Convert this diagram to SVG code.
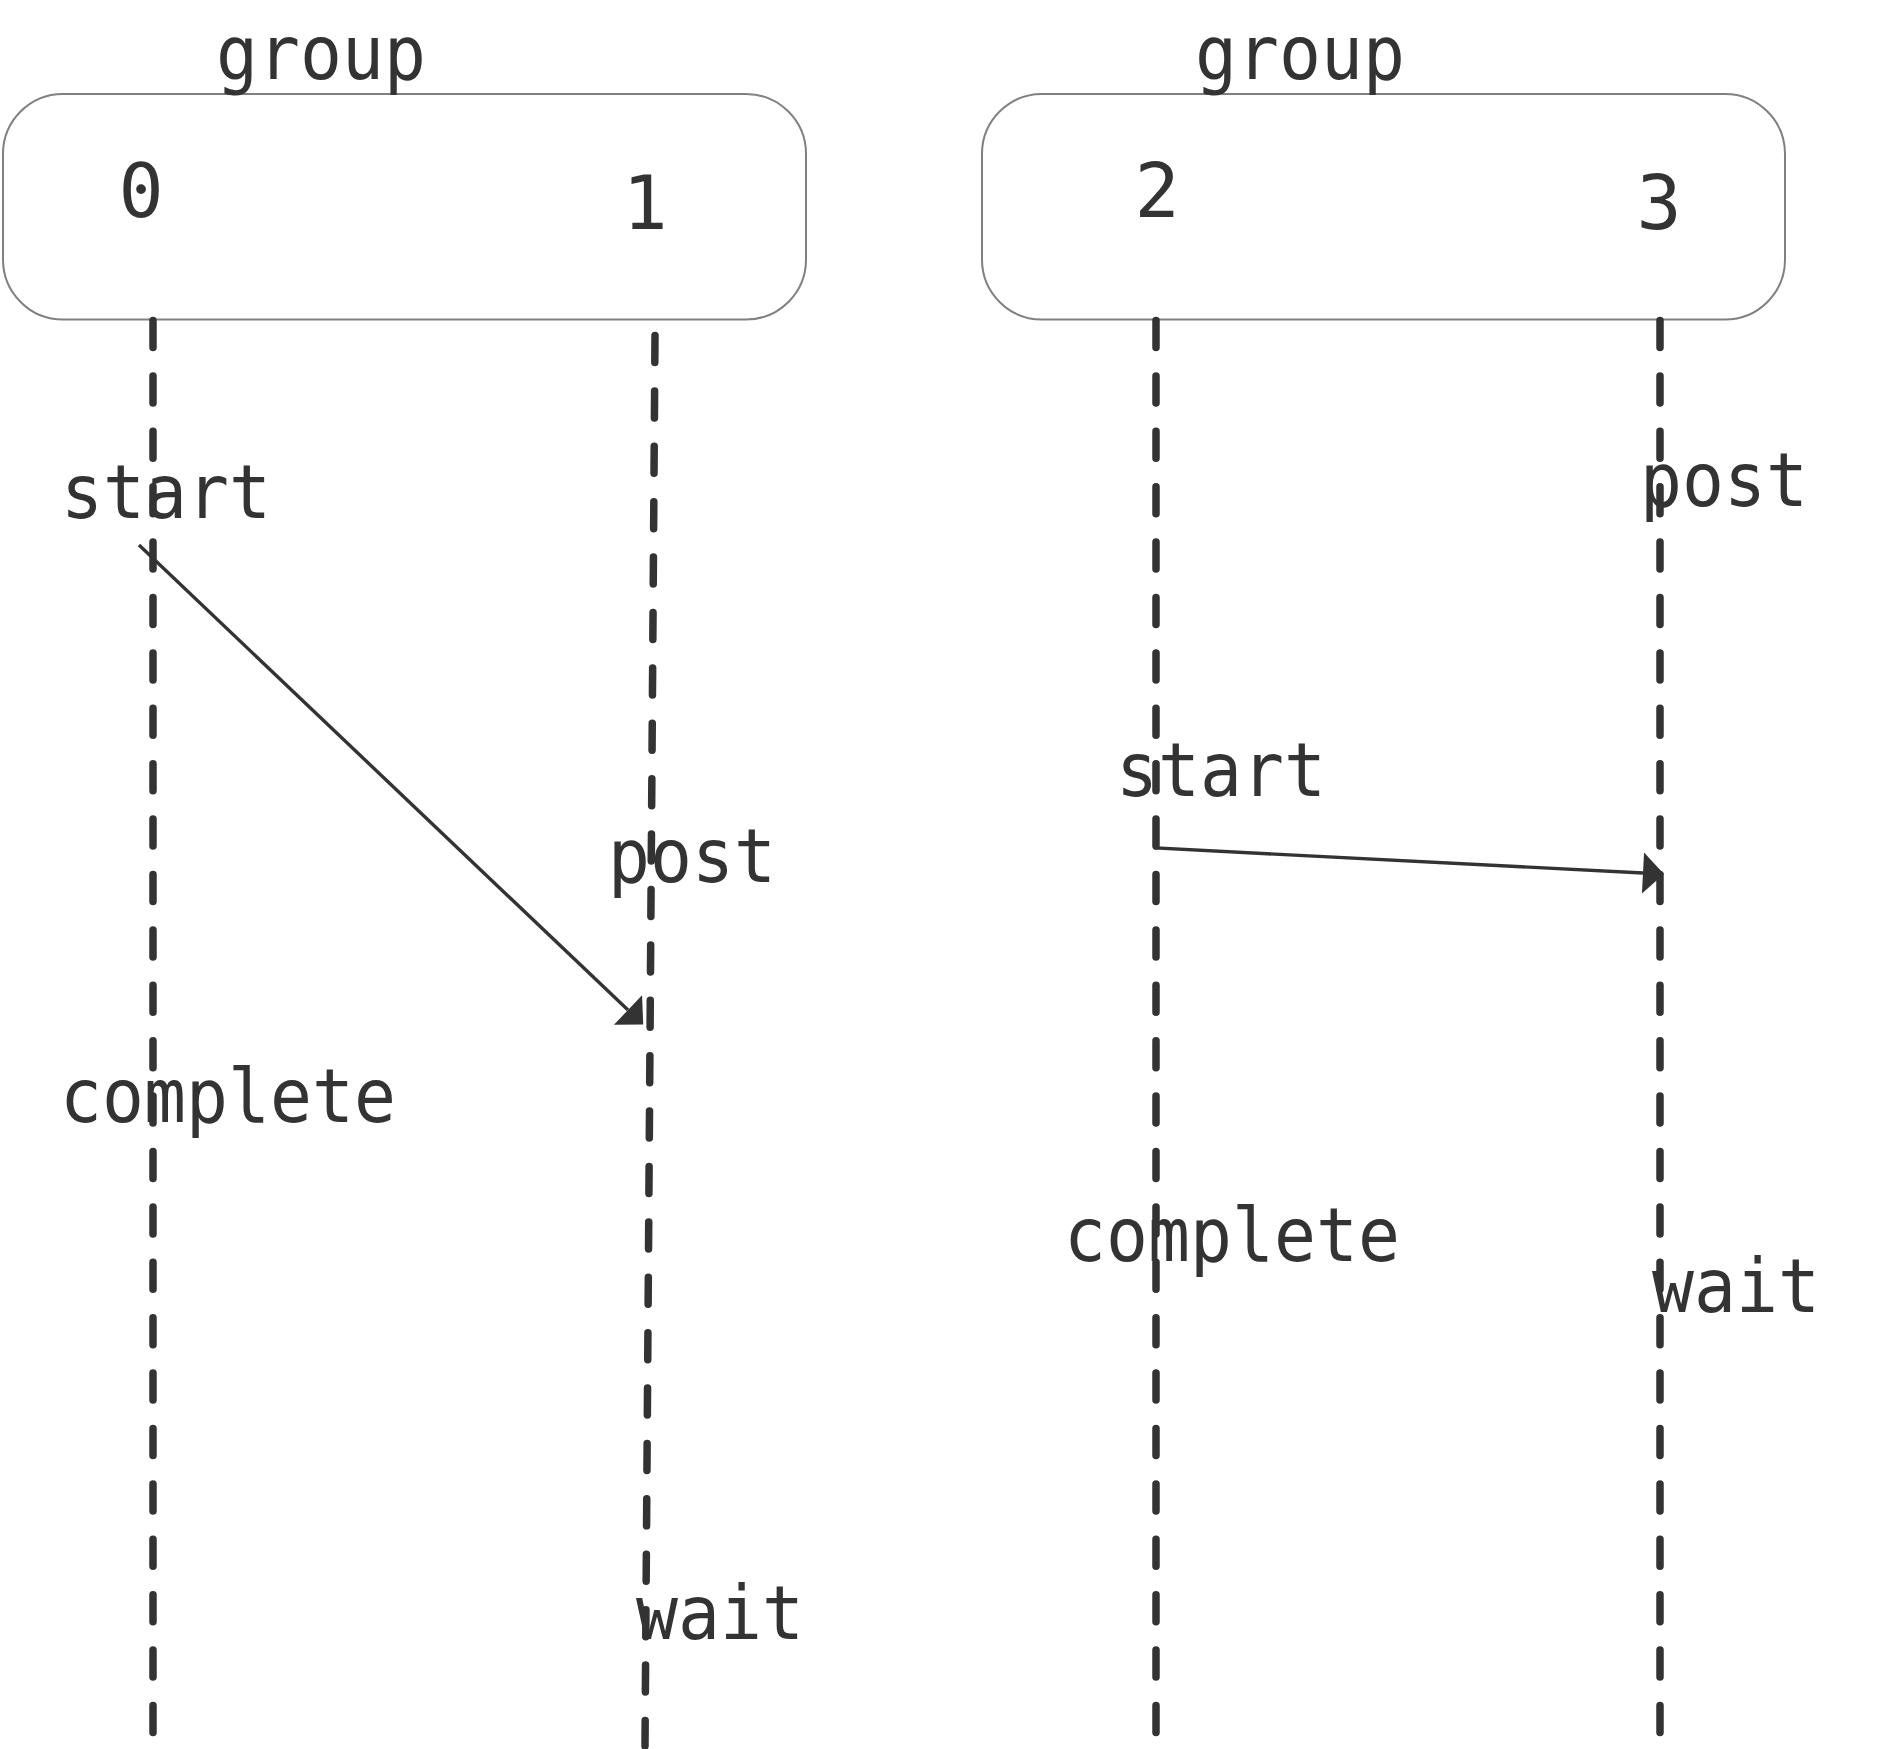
<svg xmlns="http://www.w3.org/2000/svg" width="1891" height="1749" viewBox="0 0 1891 1749">
<defs>
<style>
.box{fill:#ffffff;stroke:#808080;stroke-width:2}
.lbl{font-family:"DejaVu Sans Mono","Liberation Mono",monospace;font-size:75px;fill:#333333}
.life{fill:none;stroke:#333333;stroke-width:7.5;stroke-linecap:round;stroke-dasharray:27 28.4}
.msg{fill:none;stroke:#333333;stroke-width:3.4}
</style>
<marker id="arrow" markerUnits="userSpaceOnUse" markerWidth="24" markerHeight="44" viewBox="0 -21 22 42" refX="0" refY="0" orient="auto">
<path d="M0,-19.5 L20,0 L0,19.5 Z" fill="#333333"/>
</marker>
</defs>
<rect width="1891" height="1749" fill="#ffffff"/>
<g id="group-left">
<rect class="box" x="3" y="94" width="803" height="225.5" rx="60" ry="60"/>
<text class="lbl" x="216" y="79" textLength="210" lengthAdjust="spacingAndGlyphs">group</text>
</g>
<g id="group-right">
<rect class="box" x="982" y="94" width="803" height="225.5" rx="60" ry="60"/>
<text class="lbl" x="1195" y="79" textLength="210" lengthAdjust="spacingAndGlyphs">group</text>
</g>
<g id="node-0">
<text class="lbl" x="141" y="217" text-anchor="middle">0</text>
</g>
<g id="node-1">
<text class="lbl" x="645" y="229" text-anchor="middle">1</text>
</g>
<g id="node-2">
<text class="lbl" x="1157" y="217" text-anchor="middle">2</text>
</g>
<g id="node-3">
<text class="lbl" x="1659" y="229" text-anchor="middle">3</text>
</g>
<g id="connectors">
<line class="life" x1="153" y1="320.5" x2="153" y2="1735"/>
<line class="life" x1="655" y1="335.5" x2="645" y2="1746"/>
<line class="life" x1="1156" y1="320.5" x2="1156" y2="1735"/>
<line class="life" x1="1660" y1="320.5" x2="1660" y2="1735"/>
<path class="msg" d="M139,545 L628,1010" marker-end="url(#arrow)"/>
<path class="msg" d="M1156,817 L1156,848 L1643,873" marker-end="url(#arrow)"/>
</g>
<g id="labels">
<text class="lbl" x="61" y="518" textLength="210" lengthAdjust="spacingAndGlyphs">start</text>
<text class="lbl" x="608" y="882" textLength="168" lengthAdjust="spacingAndGlyphs">post</text>
<text class="lbl" x="60" y="1122" textLength="336" lengthAdjust="spacingAndGlyphs">complete</text>
<text class="lbl" x="636" y="1639" textLength="168" lengthAdjust="spacingAndGlyphs">wait</text>
<text class="lbl" x="1640" y="506" textLength="168" lengthAdjust="spacingAndGlyphs">post</text>
<text class="lbl" x="1116" y="796" textLength="210" lengthAdjust="spacingAndGlyphs">start</text>
<text class="lbl" x="1064" y="1261" textLength="336" lengthAdjust="spacingAndGlyphs">complete</text>
<text class="lbl" x="1652" y="1312" textLength="168" lengthAdjust="spacingAndGlyphs">wait</text>
</g>
</svg>
